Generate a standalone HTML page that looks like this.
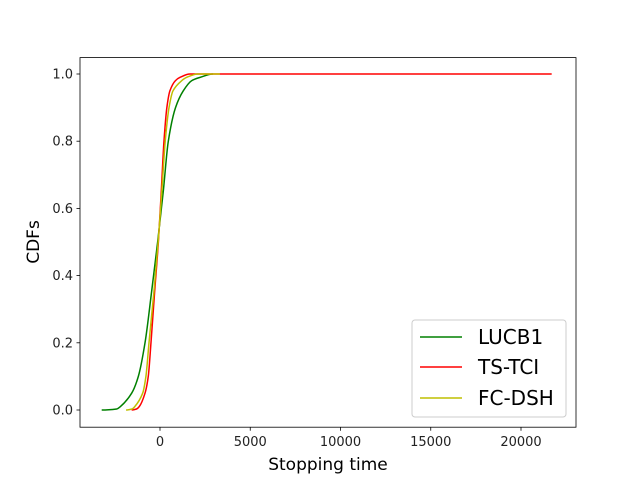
<!DOCTYPE html>
<html><head><meta charset="utf-8"><style>
body{margin:0;background:#fff}
svg{display:block;font-family:"DejaVu Sans","Liberation Sans",sans-serif}
</style></head><body>
<svg id="chart" width="640" height="480" xmlns="http://www.w3.org/2000/svg">
<rect width="640" height="480" fill="#fff"/>
<g id="plot"></g>
<g id="xticks"></g>
<g id="yticks"></g>
<rect x="80" y="57.6" width="496" height="369.6" fill="none" stroke="#000" stroke-width="0.8"/>
<text x="328" y="470" text-anchor="middle" font-size="17">Stopping time</text>
<text transform="translate(39,242) rotate(-90)" text-anchor="middle" font-size="17">CDFs</text>
<g>
<rect x="412" y="320" width="154" height="97" rx="3" fill="#fff" fill-opacity="0.8" stroke="#ccc" stroke-width="1"/>
<g><line x1="420" y1="337" x2="462" y2="337" stroke="green" stroke-width="1.5"/><text x="478" y="344" font-size="20">LUCB1</text></g>
<g><line x1="420" y1="367" x2="462" y2="367" stroke="red" stroke-width="1.5"/><text x="478" y="374" font-size="20">TS-TCI</text></g>
<g><line x1="420" y1="398" x2="462" y2="398" stroke="#bfbf00" stroke-width="1.5"/><text x="478" y="405" font-size="20">FC-DSH</text></g>
</g>
</svg>
<script>
const xTicks=[0,5000,10000,15000,20000];
const yTicks=[0,0.2,0.4,0.6,0.8,1.0];
const lucbX=[-3230,-2400,-2200,-1570,-1200,-830,-470,-130,180,460,860,1290,1750,2220,2940];
const lucbY=[0,0.003,0.01,0.05,0.1,0.2,0.35,0.5,0.65,0.8,0.9,0.95,0.98,0.99,1];
const tsX=[-1570,-1300,-1150,-830,-650,-500,-300,-90,70,220,380,550,850,1110,1660,21700];
const tsY=[0,0.003,0.01,0.05,0.1,0.2,0.35,0.5,0.65,0.8,0.9,0.95,0.98,0.99,1,1];
const fcX=[-1880,-1550,-1400,-960,-780,-610,-340,-100,100,290,500,720,1200,1480,2100,3320];
const fcY=[0,0.003,0.01,0.05,0.1,0.2,0.35,0.5,0.65,0.8,0.9,0.95,0.98,0.99,1,1];
const NS="http://www.w3.org/2000/svg";
const sx=v=>160+v*(361/20000);
const sy=v=>410-v*336;
function mono(xs,ys){
 const n=xs.length,px=xs.map(sx),py=ys.map(sy),d=[],m=[];
 for(let i=0;i<n-1;i++)d.push((py[i+1]-py[i])/(px[i+1]-px[i]));
 for(let i=0;i<n;i++){if(i==0||i==n-1)m.push(0);else m.push(d[i-1]*d[i]<=0?0:2/(1/d[i-1]+1/d[i]));}
 let p="M"+px[0]+","+py[0];
 for(let i=0;i<n-1;i++){const h=(px[i+1]-px[i])/3;p+=` C${px[i]+h},${py[i]+m[i]*h} ${px[i+1]-h},${py[i+1]-m[i+1]*h} ${px[i+1]},${py[i+1]}`;}
 return p;
}
const plot=document.getElementById('plot');
[[lucbX,lucbY,'green','series-lucb1'],[tsX,tsY,'red','series-ts-tci'],[fcX,fcY,'#bfbf00','series-fc-dsh']].forEach(s=>{
 const el=document.createElementNS(NS,'path');
 el.setAttribute('d',mono(s[0],s[1]));el.setAttribute('fill','none');el.setAttribute('stroke',s[2]);el.setAttribute('stroke-width','1.5');
 
 
 plot.appendChild(el);
});
const xg=document.getElementById('xticks');
xTicks.forEach(t=>{
 const x=sx(t);
 const l=document.createElementNS(NS,'line');l.setAttribute('x1',x);l.setAttribute('x2',x);l.setAttribute('y1',427.2);l.setAttribute('y2',430.7);l.setAttribute('stroke','#000');l.setAttribute('stroke-width','0.8');
 
 
 xg.appendChild(l);
 const tx=document.createElementNS(NS,'text');tx.setAttribute('x',x);tx.setAttribute('y',446);tx.setAttribute('text-anchor','middle');tx.setAttribute('font-size','13');tx.setAttribute('fill','#222');tx.textContent=t;
 
 
 xg.appendChild(tx);
});
const yg=document.getElementById('yticks');
yTicks.forEach(t=>{
 const y=sy(t);
 const l=document.createElementNS(NS,'line');l.setAttribute('x1',76.5);l.setAttribute('x2',80);l.setAttribute('y1',y);l.setAttribute('y2',y);l.setAttribute('stroke','#000');l.setAttribute('stroke-width','0.8');
 
 
 yg.appendChild(l);
 const tx=document.createElementNS(NS,'text');tx.setAttribute('x',73);tx.setAttribute('y',y+4.5);tx.setAttribute('text-anchor','end');tx.setAttribute('font-size','13');tx.setAttribute('fill','#222');tx.textContent=t.toFixed(1);
 
 
 yg.appendChild(tx);
});
</script>
</body></html>
